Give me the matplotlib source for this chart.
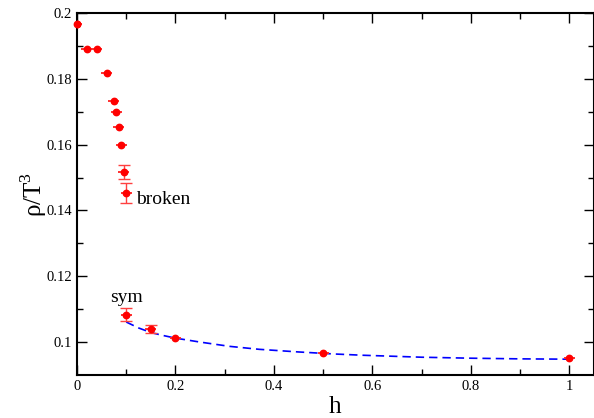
import matplotlib
matplotlib.use("Agg")
import matplotlib.pyplot as plt
import numpy as np

plt.rcParams['font.family'] = ['Liberation Serif', 'DejaVu Serif']
plt.rcParams['mathtext.fontset'] = 'custom'
plt.rcParams['mathtext.rm'] = 'Liberation Serif'

# broken phase points
h_broken = [0.0, 0.02, 0.04, 0.06, 0.075, 0.08, 0.085, 0.09, 0.095, 0.1]
rho_broken = [0.1967, 0.1891, 0.1891, 0.1819, 0.1733, 0.1698, 0.1653, 0.1598, 0.1518, 0.1452]
err_broken = [0.0, 0.0, 0.0, 0.0, 0.0, 0.0, 0.0, 0.0, 0.0021, 0.003]

# symmetric phase points
h_sym = [0.1, 0.15, 0.2, 0.5, 1.0]
rho_sym = [0.1083, 0.1040, 0.1013, 0.0968, 0.0951]
err_sym = [0.002, 0.0011, 0.0, 0.0, 0.0]

# dashed fit curve
h_fit = [0.1, 0.125, 0.15, 0.175, 0.2, 0.25, 0.31, 0.37, 0.45, 0.52, 0.58, 0.64, 0.7, 0.8, 0.9, 1.0]
rho_fit = [0.1061, 0.1043, 0.1029, 0.1020, 0.1012, 0.1000, 0.0987, 0.0978, 0.0970, 0.0964, 0.0960,
           0.0957, 0.0954, 0.0951, 0.0949, 0.0948]

fig = plt.figure(figsize=(5.94, 4.18), dpi=100)
ax = fig.add_axes([0.1296, 0.1029, 0.8704, 0.866])

ax.plot(h_fit, rho_fit, color='blue', lw=1.2, ls=(0, (5, 3)), zorder=2)

red = '#ff0000'
for h, rho, err in [(h_broken, rho_broken, err_broken), (h_sym, rho_sym, err_sym)]:
    # small horizontal bars through every point
    ax.errorbar(h, rho, xerr=0.011, fmt='o', color=red, ecolor='#ff3030',
                markersize=4.6, elinewidth=1.4, zorder=3)
    # vertical error bars with caps only where they are visible
    hv = [x for x, e in zip(h, err) if e > 0]
    rv = [y for y, e in zip(rho, err) if e > 0]
    ev = [e for e in err if e > 0]
    ax.errorbar(hv, rv, yerr=ev, fmt='none', ecolor='#ff4040', capsize=4.5,
                elinewidth=1.0, capthick=1.0, zorder=3)
# the h=0 marker sits on the spine and is drawn whole
ax.plot(h_broken[:1], rho_broken[:1], 'o', color=red, markersize=4.6, clip_on=False, zorder=4)

ax.text(0.12, 0.1433, 'broken', fontsize=14, va='center', ha='left')
ax.text(0.067, 0.1135, 'sym', fontsize=14, va='center', ha='left')

ax.set_xlim(0, 1.05)
ax.set_ylim(0.09, 0.2)
ax.set_xticks([0, 0.2, 0.4, 0.6, 0.8, 1.0])
ax.set_xticklabels(['0', '0.2', '0.4', '0.6', '0.8', '1'])
ax.set_xticks(np.arange(0.1, 1.05, 0.2), minor=True)
ax.set_yticks([0.1, 0.12, 0.14, 0.16, 0.18, 0.2])
ax.set_yticklabels(['0.1', '0.12', '0.14', '0.16', '0.18', '0.2'])
ax.set_yticks(np.arange(0.11, 0.2, 0.02), minor=True)
ax.tick_params(which='both', direction='in', top=True, right=True, labelsize=10.5, width=1.0)
ax.tick_params(which='major', length=7)
ax.tick_params(which='minor', length=4)
for s in ax.spines.values():
    s.set_linewidth(1.5)

ax.set_xlabel('h', fontsize=18, labelpad=2)
ax.set_ylabel(r'ρ/T$^\mathrm{3}$', fontsize=18, labelpad=-2)

fig.savefig('out.png', dpi=100)
